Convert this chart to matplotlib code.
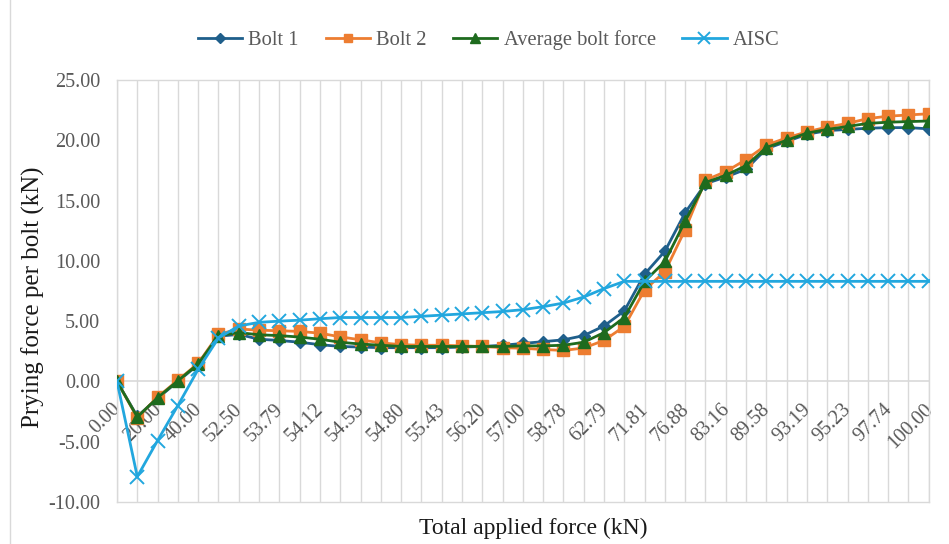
import matplotlib
matplotlib.use("Agg")
import matplotlib.pyplot as plt
import matplotlib.transforms as mtransforms
from matplotlib.lines import Line2D

# ---- data ----
x_labels = ["0.00", "20.00", "40.00", "52.50", "53.79", "54.12", "54.53", "54.80",
            "55.43", "56.20", "57.00", "58.78", "62.79", "71.81", "76.88", "83.16",
            "89.58", "93.19", "95.23", "97.74", "100.00"]  # shown on every 2nd category

bolt1 = [0.0, -2.9, -1.4, 0.0, 1.4, 3.75, 3.9, 3.5, 3.4, 3.25, 3.05,
         2.9, 2.85, 2.8, 2.8, 2.8, 2.8, 2.85, 2.9, 3.0, 3.15,
         3.3, 3.45, 3.8, 4.6, 5.85, 8.9, 10.8, 14.0, 16.4, 16.95,
         17.6, 19.3, 19.9, 20.5, 20.8, 20.9, 21.0, 21.05, 21.05, 20.95]
bolt2 = [0.0, -3.0, -1.3, 0.1, 1.5, 3.9, 4.35, 4.25, 4.2, 4.15, 4.0,
         3.7, 3.45, 3.2, 3.05, 3.0, 3.0, 2.95, 2.9, 2.8, 2.75,
         2.65, 2.57, 2.77, 3.4, 4.56, 7.6, 9.1, 12.6, 16.7, 17.4,
         18.4, 19.6, 20.2, 20.7, 21.1, 21.4, 21.8, 22.0, 22.1, 22.2]
average = [0.0, -2.95, -1.35, 0.05, 1.45, 3.8, 4.05, 3.87, 3.8, 3.68, 3.5,
           3.25, 3.1, 3.0, 2.9, 2.9, 2.9, 2.9, 2.9, 2.9, 2.95,
           2.95, 3.0, 3.25, 4.05, 5.3, 8.3, 9.95, 13.3, 16.5, 17.1,
           17.9, 19.4, 20.0, 20.6, 20.9, 21.15, 21.4, 21.5, 21.55, 21.6]
aisc = [0.0, -7.9, -4.9, -2.0, 1.0, 3.6, 4.6, 4.9, 5.0, 5.08, 5.2,
        5.3, 5.3, 5.3, 5.3, 5.4, 5.5, 5.6, 5.7, 5.8, 5.95,
        6.2, 6.5, 7.0, 7.7, 8.3, 8.3, 8.3, 8.3, 8.3, 8.3,
        8.3, 8.3, 8.3, 8.3, 8.3, 8.3, 8.3, 8.3, 8.3, 8.3]

series_names = ["Bolt 1", "Bolt 2", "Average bolt force", "AISC"]

# ---- style ----
plt.rcParams['font.family'] = ['Liberation Serif', 'DejaVu Serif']
grey_txt = '#595959'
grid_c = '#D9D9D9'

fig = plt.figure(figsize=(9.49, 5.44), dpi=100)
ax = fig.add_axes([117/949, 1-502/544, (928.7-117)/949, (502-80)/544])

n = len(bolt1)
xs = list(range(n))

l1, = ax.plot(xs, bolt1, color='#1F5F8B', lw=2.0, marker='D', ms=6.5, zorder=3, label=series_names[0])
l2, = ax.plot(xs, bolt2, color='#ED7D31', lw=2.0, marker='s', ms=8, zorder=4, label=series_names[1])
l3, = ax.plot(xs, average, color='#1E6B1E', lw=2.0, marker='^', ms=8.5, zorder=5, label=series_names[2])
l4, = ax.plot(xs, aisc, color='#22A7DE', lw=2.0, marker='x', ms=10, mew=1.4, zorder=6, label=series_names[3])

ax.set_xlim(0, n-1)
ax.set_ylim(-10, 25)
ax.set_xticks(xs)
ax.set_xticklabels([])
ax.set_yticks([-10, -5, 0, 5, 10, 15, 20, 25])
ax.set_yticklabels(["%.2f" % v for v in [-10, -5, 0, 5, 10, 15, 20, 25]])
ax.tick_params(axis='both', length=0)
ax.tick_params(axis='y', labelsize=14.5, labelcolor=grey_txt, pad=12)
ax.grid(axis='x', color=grid_c, lw=1.0, zorder=0)
ax.axhline(0, color=grid_c, lw=1.2, zorder=1)
for s in ax.spines.values():
    s.set_color(grid_c)
    s.set_linewidth(1.0)

# category labels at the zero line
off = mtransforms.offset_copy(ax.transData, fig=fig, x=1, y=-25, units='dots')
for k, lab in enumerate(x_labels):
    ax.text(2*k, 0, lab, transform=off, rotation=45, ha='right', va='center',
            rotation_mode='anchor', fontsize=14.5, color=grey_txt, zorder=2)

ax.set_ylabel("Prying force per bolt (kN)", fontsize=18, color='#1a1a1a')
ax.yaxis.set_label_coords(-0.0886, 0.485)
ax.set_xlabel("Total applied force (kN)", fontsize=17, color='#1a1a1a', va='center')
ax.xaxis.set_label_coords(0.5125, -0.0616)

leg = fig.legend(handles=[l1, l2, l3, l4], loc='center', bbox_to_anchor=(0.515, 0.926),
                 ncol=4, frameon=False, fontsize=14.8, handlelength=2.15, handletextpad=0.3,
                 columnspacing=1.3, labelcolor=grey_txt)
for h in leg.legend_handles:
    h.set_markersize(h.get_markersize()*0.8)

fig.add_artist(Line2D([10/949, 10/949], [0, 1], transform=fig.transFigure, color=grid_c, lw=1.0))

fig.savefig("out.png", dpi=100)
